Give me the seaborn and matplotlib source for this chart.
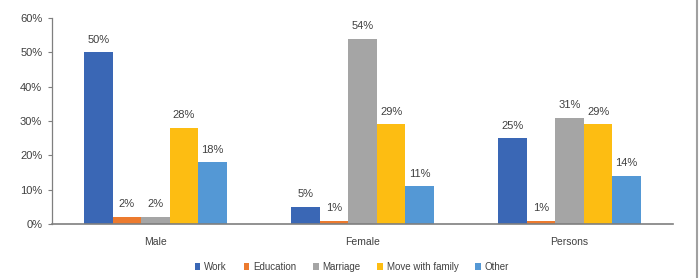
import matplotlib
matplotlib.use("Agg")
import matplotlib.pyplot as plt
import seaborn as sns
import pandas as pd
from matplotlib.lines import Line2D

groups = ["Male", "Female", "Persons"]
reasons = ["Work", "Education", "Marriage", "Move with family", "Other"]
work = [50, 5, 25]
education = [2, 1, 1]
marriage = [2, 54, 31]
move_family = [28, 29, 29]
other = [18, 11, 14]
colors = ["#3A67B5", "#EC7A2E", "#A5A5A5", "#FDBD12", "#5498D5"]
yticks = [0, 10, 20, 30, 40, 50, 60]

series = [work, education, marriage, move_family, other]
rows = []
for r, vals in zip(reasons, series):
    for g, v in zip(groups, vals):
        rows.append({"group": g, "reason": r, "value": v})
df = pd.DataFrame(rows)

sns.set_style("white")
plt.rcParams["font.family"] = ["Liberation Sans", "DejaVu Sans"]

fig = plt.figure(figsize=(6.99, 2.78), dpi=100)
ax = fig.add_axes([52/699, 1-224/278, (673-52)/699, (224-18)/278])

sns.barplot(data=df, x="group", y="value", hue="reason", order=groups,
            hue_order=reasons, palette=colors, width=0.69, ax=ax,
            saturation=1, errorbar=None, linewidth=0)

for cont in ax.containers:
    ax.bar_label(cont, labels=[f"{int(round(v))}%" for v in cont.datavalues],
                 padding=5.5, fontsize=8, color="#404040")

ax.set_ylim(0, 60)
ax.set_xlim(-0.5, 2.5)
ax.set_yticks(yticks)
ax.set_yticklabels([f"{t}%" for t in yticks], fontsize=8, color="#404040")
ax.tick_params(axis="y", which="major", left=True, length=3, width=0.8,
               color="#7f7f7f", pad=4)
ax.tick_params(axis="x", bottom=False, labelsize=7.5, labelcolor="#404040", pad=6)
ax.set_xlabel("")
ax.set_ylabel("")
for s in ["top", "right"]:
    ax.spines[s].set_visible(False)
ax.spines["left"].set_color("#7f7f7f")
ax.spines["bottom"].set_color("#7f7f7f")
ax.spines["left"].set_linewidth(0.9)
ax.spines["bottom"].set_linewidth(1.2)

handles, labels = ax.get_legend_handles_labels()
ax.legend_.remove()
fig.legend(handles, labels, loc="center", bbox_to_anchor=(352/699, 1-267/278),
           ncol=5, frameon=False, fontsize=7, handlelength=0.6, handleheight=0.6,
           handletextpad=0.4, columnspacing=1.7, labelcolor="#404040")

fig.add_artist(Line2D([697/699, 697/699], [0, 1], transform=fig.transFigure,
                      color="#a0a0a0", linewidth=1.5))

fig.savefig("out.png", dpi=100)
